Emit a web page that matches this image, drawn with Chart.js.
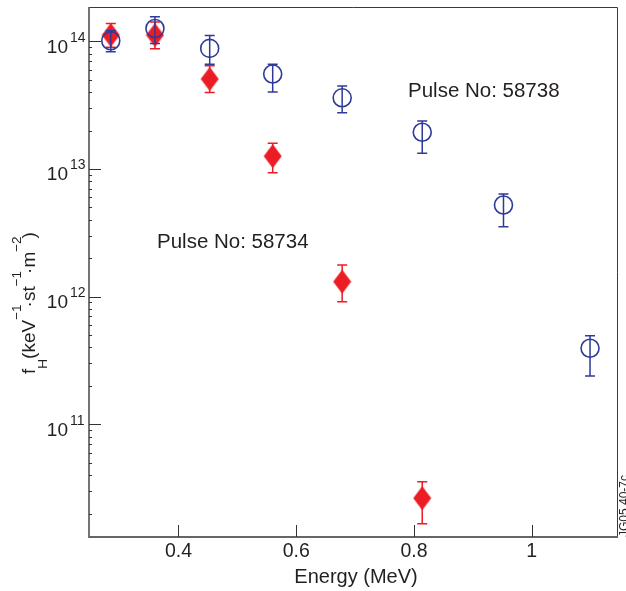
<!DOCTYPE html>
<html><head><meta charset="utf-8">
<script src="https://cdn.jsdelivr.net/npm/chart.js@4/dist/chart.umd.min.js"></script>
<style>html,body{margin:0;padding:0;background:#fff;} #wrap{width:626px;height:591px;position:relative;}</style>
</head><body><div id="wrap"><canvas id="c" width="626" height="591"></canvas></div>
<script>
// ---- data ----
const energy58738 = [0.285, 0.360, 0.453, 0.560, 0.678, 0.814, 0.952, 1.099];
const flux58738 = [1.01e14, 1.26e14, 8.8e13, 5.55e13, 3.61e13, 1.94e13, 5.22e12, 3.94e11];
const flux58738Low = [8.3e13, 9.6e13, 6.6e13, 4.01e13, 2.76e13, 1.33e13, 3.53e12, 2.39e11];
const flux58738High = [1.21e14, 1.56e14, 1.11e14, 6.6e13, 4.47e13, 2.38e13, 6.37e12, 4.94e11];
const energy58734 = [0.285, 0.360, 0.453, 0.560, 0.678, 0.814];
const flux58734 = [1.12e14, 1.12e14, 5.07e13, 1.26e13, 1.31e12, 2.64e10];
const flux58734Low = [9.0e13, 8.75e13, 3.98e13, 9.36e12, 9.12e11, 1.66e10];
const flux58734High = [1.38e14, 1.42e14, 6.44e13, 1.59e13, 1.77e12, 3.55e10];
const xTickValues = [0.4, 0.6, 0.8, 1];
const xTickLabels = ['0.4', '0.6', '0.8', '1'];
const yDecades = [1e11, 1e12, 1e13, 1e14];
const xRange = [0.248, 1.1465];
const yRange = [1.31e10, 1.857e14];
const labels = {x: 'Energy (MeV)', series: ['Pulse No: 58734', 'Pulse No: 58738'], code: 'JG05.40-7c'};

const RED = '#ec1c24';
const BLUE = '#2f3a98';
const TXT = '#231f20';
const FONT = '"Liberation Sans", Arial, sans-serif';

const diamond = (() => {
  const c = document.createElement('canvas'); c.width = 19; c.height = 25;
  const g = c.getContext('2d'); g.fillStyle = RED; g.beginPath();
  g.moveTo(9.5, 0.5); g.lineTo(18.5, 12.5); g.lineTo(9.5, 24.5); g.lineTo(0.5, 12.5); g.closePath(); g.fill();
  return c;
})();

const decor = {
  id: 'decor',
  beforeDatasetsDraw(chart) {
    const ctx = chart.ctx, a = chart.chartArea, xs = chart.scales.x, ys = chart.scales.y;
    ctx.save();
    ctx.strokeStyle = '#3a3a3a'; ctx.lineWidth = 1;
    ctx.beginPath(); ctx.moveTo(a.left, a.top + 0.5); ctx.lineTo(a.right - 0.5, a.top + 0.5); ctx.lineTo(a.right - 0.5, a.bottom); ctx.stroke();
    ctx.strokeStyle = '#666'; ctx.lineWidth = 1.8;
    ctx.beginPath(); ctx.moveTo(a.left, a.top); ctx.lineTo(a.left, a.bottom); ctx.lineTo(a.right, a.bottom); ctx.stroke();
    ctx.strokeStyle = '#333'; ctx.lineWidth = 1;
    ctx.beginPath();
    xTickValues.forEach(v => { const x = Math.round(xs.getPixelForValue(v)) + 0.5; ctx.moveTo(x, a.bottom); ctx.lineTo(x, a.bottom - 12); });
    for (let e = 10; e <= 14; e++) {
      for (let m = 1; m <= 9; m++) {
        const v = m * Math.pow(10, e);
        if (v < yRange[0] || v > yRange[1]) continue;
        const y = Math.round(ys.getPixelForValue(v)) + 0.5;
        ctx.moveTo(a.left, y); ctx.lineTo(a.left + (m === 1 ? 12 : 3), y);
      }
    }
    ctx.stroke();
    ctx.restore();
  },
  beforeDatasetDraw(chart, args) {
    const ds = chart.data.datasets[args.index];
    const ctx = chart.ctx, xs = chart.scales.x, ys = chart.scales.y;
    ctx.save();
    ctx.strokeStyle = ds.borderColor; ctx.lineWidth = 1.5;
    ds.data.forEach((p, i) => {
      const x = xs.getPixelForValue(p.x);
      const y1 = ys.getPixelForValue(ds.errLow[i]), y2 = ys.getPixelForValue(ds.errHigh[i]);
      ctx.beginPath();
      ctx.moveTo(x, y1); ctx.lineTo(x, y2);
      ctx.moveTo(x - 5, y1); ctx.lineTo(x + 5, y1);
      ctx.moveTo(x - 5, y2); ctx.lineTo(x + 5, y2);
      ctx.stroke();
    });
    ctx.restore();
  },
  afterDraw(chart) {
    const ctx = chart.ctx, xs = chart.scales.x, ys = chart.scales.y;
    ctx.save();
    ctx.fillStyle = TXT;
    yDecades.forEach(v => {
      const y = ys.getPixelForValue(v);
      const exp = String(Math.round(Math.log10(v)));
      ctx.font = '19px ' + FONT; ctx.textAlign = 'right'; ctx.textBaseline = 'alphabetic';
      ctx.fillText('10', 68, y + 11.5);
      ctx.font = '14px ' + FONT; ctx.textAlign = 'left';
      ctx.fillText(exp, 70, y + 0.5);
    });
    ctx.font = '19.5px ' + FONT; ctx.textAlign = 'center';
    xTickValues.forEach((v, i) => ctx.fillText(xTickLabels[i], xs.getPixelForValue(v), 557));
    ctx.font = '20px ' + FONT;
    ctx.fillText(labels.x, 356, 583);
    ctx.font = '20.5px ' + FONT; ctx.textAlign = 'left';
    ctx.fillText(labels.series[1], 408, 97);
    ctx.fillText(labels.series[0], 157, 248);
    // y title with sub/superscripts: [text, baseline shift, size, advance tweak]
    const segs = [
      ['f', 0, 19, 0], ['H', 12, 13.5, 0], ['(keV', 0, 19, 0], ['\u22121', -14, 13.5, -3],
      ['\u00b7st', 0, 19, 0], ['\u22121', -14, 13.5, -3], ['\u00b7m', 0, 19, 0], ['\u22122', -14, 13.5, -2], [')', 0, 19, 0]
    ];
    let total = 0;
    segs.forEach(s => { ctx.font = s[2] + 'px ' + FONT; total += ctx.measureText(s[0]).width + s[3]; });
    ctx.save();
    ctx.translate(35, 303 + total / 2);
    ctx.rotate(-Math.PI / 2);
    let cx = 0;
    segs.forEach(s => { ctx.font = s[2] + 'px ' + FONT; ctx.fillText(s[0], cx, s[1]); cx += ctx.measureText(s[0]).width + s[3]; });
    ctx.restore();
    ctx.save();
    ctx.translate(627.5, 537);
    ctx.rotate(-Math.PI / 2);
    ctx.font = '12px ' + FONT;
    ctx.fillText(labels.code, 0, 0);
    ctx.restore();
    ctx.restore();
  }
};

new Chart(document.getElementById('c'), {
  type: 'scatter',
  data: {
    datasets: [
      {
        label: labels.series[0],
        data: energy58734.map((x, i) => ({x, y: flux58734[i]})),
        errLow: flux58734Low, errHigh: flux58734High,
        pointStyle: diamond, pointRadius: 12, borderColor: RED, backgroundColor: RED, order: 2
      },
      {
        label: labels.series[1],
        data: energy58738.map((x, i) => ({x, y: flux58738[i]})),
        errLow: flux58738Low, errHigh: flux58738High,
        pointStyle: 'circle', pointRadius: 9, borderWidth: 1.6, borderColor: BLUE, backgroundColor: 'rgba(0,0,0,0)', order: 1
      }
    ]
  },
  options: {
    responsive: false, animation: false, events: [],
    layout: {autoPadding: false, padding: {left: 89, top: 7, right: 8, bottom: 54}},
    plugins: {legend: {display: false}, tooltip: {enabled: false}},
    scales: {
      x: {type: 'linear', min: xRange[0], max: xRange[1], display: false},
      y: {type: 'logarithmic', min: yRange[0], max: yRange[1], display: false}
    }
  },
  plugins: [decor]
});
</script>
</body></html>
